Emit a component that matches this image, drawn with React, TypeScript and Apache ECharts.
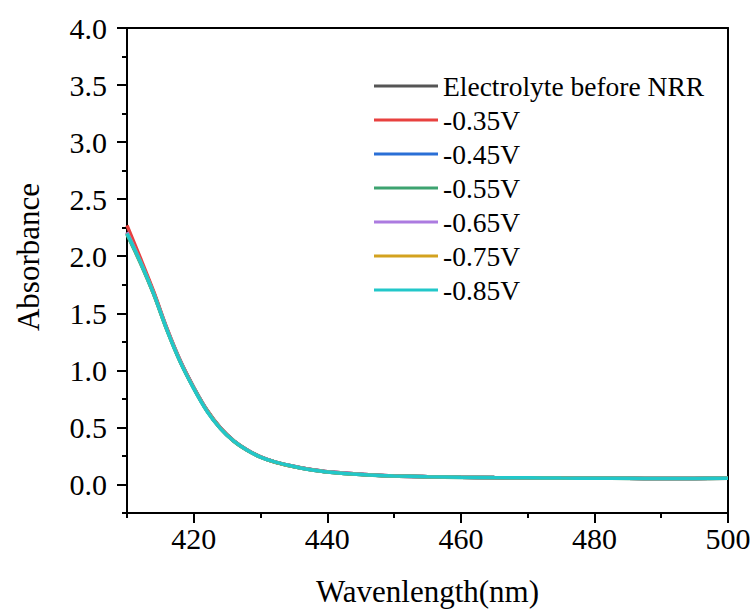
import React, { useEffect, useRef } from "react";
import * as echarts from "echarts";

const wavelengths = [410, 412, 414, 416, 418, 420, 422, 424, 426, 428, 430, 432, 434, 436, 438, 440, 445, 450, 455, 460, 465, 470, 475, 480, 485, 490, 495, 500];

const seriesNames = ["Electrolyte before NRR", "-0.35V", "-0.45V", "-0.55V", "-0.65V", "-0.75V", "-0.85V"];
const seriesColors = ["#555555", "#e8413f", "#2a6fd6", "#3da370", "#ac7be0", "#d3a21f", "#22c7c9"];

const electrolyte = [2.21, 1.96, 1.68, 1.36, 1.08, 0.85, 0.65, 0.495, 0.382, 0.302, 0.242, 0.2, 0.17, 0.146, 0.126, 0.111, 0.089, 0.075, 0.068, 0.063, 0.06, 0.058, 0.056, 0.055, 0.054, 0.053, 0.053, 0.054];
const v035 = [2.27, 1.985, 1.69, 1.365, 1.082, 0.85, 0.648, 0.495, 0.383, 0.302, 0.242, 0.2, 0.17, 0.146, 0.126, 0.111, 0.089, 0.075, 0.068, 0.063, 0.06, 0.058, 0.056, 0.055, 0.054, 0.053, 0.053, 0.055];
const v045 = [2.2, 1.95, 1.67, 1.355, 1.075, 0.845, 0.645, 0.492, 0.38, 0.3, 0.24, 0.199, 0.169, 0.145, 0.125, 0.11, 0.088, 0.075, 0.068, 0.063, 0.06, 0.058, 0.056, 0.055, 0.054, 0.053, 0.053, 0.055];
const v055 = [2.19, 1.94, 1.665, 1.35, 1.07, 0.842, 0.642, 0.49, 0.378, 0.299, 0.239, 0.198, 0.168, 0.144, 0.124, 0.11, 0.088, 0.074, 0.067, 0.062, 0.059, 0.057, 0.055, 0.054, 0.053, 0.052, 0.052, 0.054];
const v065 = [2.21, 1.955, 1.675, 1.358, 1.078, 0.846, 0.646, 0.493, 0.381, 0.301, 0.241, 0.2, 0.17, 0.146, 0.126, 0.111, 0.089, 0.075, 0.068, 0.063, 0.06, 0.058, 0.056, 0.055, 0.054, 0.053, 0.053, 0.055];
const v075 = [2.2, 1.95, 1.67, 1.352, 1.072, 0.843, 0.643, 0.491, 0.379, 0.3, 0.24, 0.199, 0.169, 0.145, 0.125, 0.11, 0.088, 0.075, 0.068, 0.063, 0.06, 0.058, 0.056, 0.055, 0.054, 0.053, 0.053, 0.055];
const v085 = [2.2, 1.95, 1.67, 1.35, 1.07, 0.84, 0.64, 0.49, 0.38, 0.3, 0.24, 0.2, 0.17, 0.145, 0.125, 0.11, 0.088, 0.075, 0.068, 0.063, 0.06, 0.058, 0.056, 0.055, 0.054, 0.053, 0.053, 0.055];

const seriesValues = [electrolyte, v035, v045, v055, v065, v075, v085];

const xMajorTicks = [420, 440, 460, 480, 500];
const xMinorTicks = [410, 430, 450, 470, 490];
const yMajorTicks = [0, 0.5, 1, 1.5, 2, 2.5, 3, 3.5, 4];
const yMinorTicks = [-0.25, 0.25, 0.75, 1.25, 1.75, 2.25, 2.75, 3.25, 3.75];

const FONT = "'Liberation Serif', 'Times New Roman', serif";

const ls = () => ({ color: "#000", width: 2 });

export default function App() {
  const ref = useRef<HTMLDivElement>(null);

  useEffect(() => {
    if (!ref.current) return;
    const chart = echarts.init(ref.current, undefined, { renderer: "svg" });
    const option: any = {
      animation: false,
      backgroundColor: "#fff",
      grid: { left: 127, right: 28, top: 28, bottom: 98 },
      xAxis: [
        {
          type: "value",
          min: 410,
          max: 500,
          axisLine: { show: true, onZero: false, lineStyle: ls() },
          axisTick: { show: true, length: 10, customValues: xMajorTicks, lineStyle: ls() },
          axisLabel: { customValues: xMajorTicks, fontSize: 30, fontFamily: FONT, color: "#000", margin: 10 },
          splitLine: { show: false },
          name: "Wavenlength(nm)",
          nameLocation: "middle",
          nameGap: 63,
          nameTextStyle: { fontSize: 31, fontFamily: FONT, color: "#000" },
        },
        {
          type: "value",
          min: 410,
          max: 500,
          position: "bottom",
          axisLine: { show: false, onZero: false },
          axisTick: { show: true, length: 5, customValues: xMinorTicks, lineStyle: ls() },
          axisLabel: { show: false },
          splitLine: { show: false },
        },
        {
          type: "value",
          min: 410,
          max: 500,
          position: "top",
          axisLine: { show: true, onZero: false, lineStyle: ls() },
          axisTick: { show: false },
          axisLabel: { show: false },
          splitLine: { show: false },
        },
      ],
      yAxis: [
        {
          type: "value",
          min: -0.25,
          max: 4,
          axisLine: { show: true, onZero: false, lineStyle: ls() },
          axisTick: { show: true, length: 10, customValues: yMajorTicks, lineStyle: ls() },
          axisLabel: {
            customValues: yMajorTicks,
            fontSize: 30,
            fontFamily: FONT,
            color: "#000",
            margin: 20,
            formatter: (v: number) => v.toFixed(1),
          },
          splitLine: { show: false },
        },
        {
          type: "value",
          min: -0.25,
          max: 4,
          position: "left",
          axisLine: { show: false, onZero: false },
          axisTick: { show: true, length: 5, customValues: yMinorTicks, lineStyle: ls() },
          axisLabel: { show: false },
          splitLine: { show: false },
        },
        {
          type: "value",
          min: -0.25,
          max: 4,
          position: "right",
          axisLine: { show: true, onZero: false, lineStyle: ls() },
          axisTick: { show: false },
          axisLabel: { show: false },
          splitLine: { show: false },
        },
      ],
      legend: {
        orient: "vertical",
        left: 374,
        top: 71,
        padding: 0,
        icon: "rect",
        itemWidth: 64,
        itemHeight: 3,
        itemGap: 4,
        data: seriesNames,
        textStyle: { fontSize: 27.5, fontFamily: FONT, color: "#000", lineHeight: 30 },
      },
      graphic: [
        {
          type: "text",
          x: 28,
          y: 257,
          rotation: Math.PI / 2,
          style: {
            text: "Absorbance",
            font: `31px ${FONT}`,
            fill: "#000",
            textAlign: "center",
            textVerticalAlign: "middle",
          },
        },
      ],
      series: seriesNames.map((name, i) => ({
        name,
        type: "line",
        xAxisIndex: 0,
        yAxisIndex: 0,
        smooth: 0.3,
        symbol: "none",
        showSymbol: false,
        itemStyle: { color: seriesColors[i] },
        lineStyle: { color: seriesColors[i], width: 3.5 },
        data: wavelengths.map((w, j) => [w, seriesValues[i][j]]),
      })),
    };
    chart.setOption(option);
    return () => chart.dispose();
  }, []);

  return <div ref={ref} style={{ width: 756, height: 612, position: "absolute", left: 0, top: 0 }} />;
}
